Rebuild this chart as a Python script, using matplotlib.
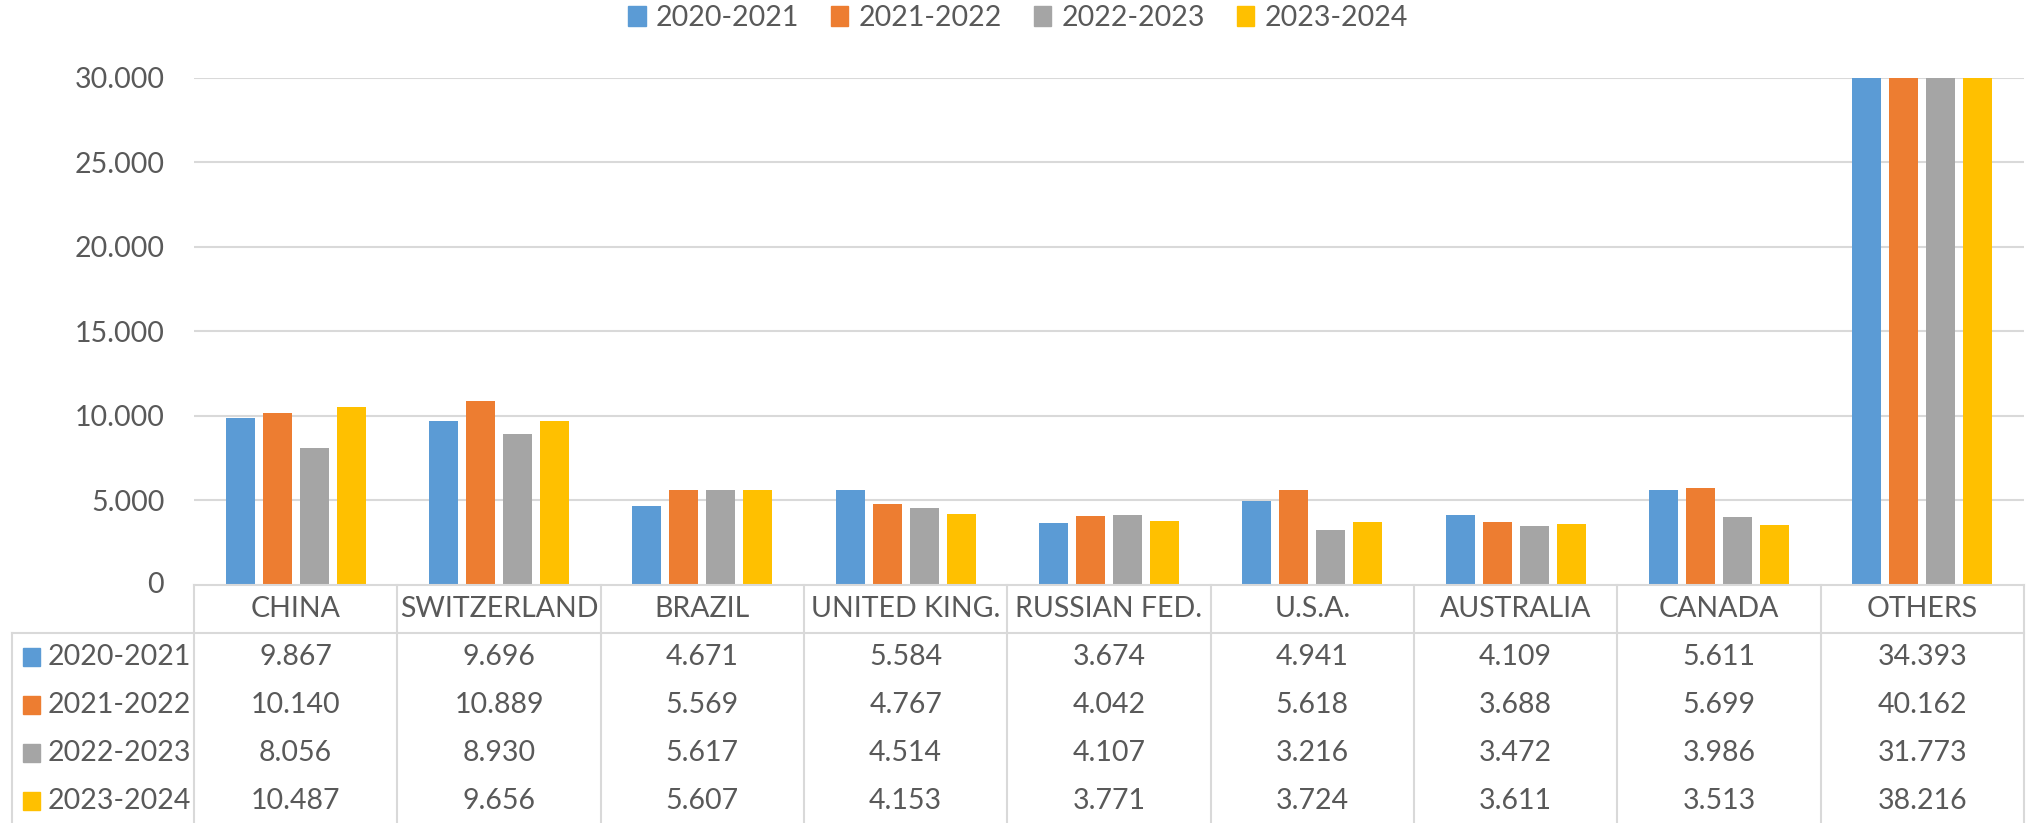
import matplotlib
matplotlib.use("Agg")
import matplotlib.pyplot as plt
import matplotlib.transforms as mtransforms
from matplotlib.patches import Rectangle, Patch
from matplotlib.lines import Line2D

# data (values in units, shown with "." as thousands separator)
countries = ['CHINA', 'SWITZERLAND', 'BRAZIL', 'UNITED KING.', 'RUSSIAN FED.',
             'U.S.A.', 'AUSTRALIA', 'CANADA', 'OTHERS']
seasons = ['2020-2021', '2021-2022', '2022-2023', '2023-2024']
v_2020_2021 = [9867, 9696, 4671, 5584, 3674, 4941, 4109, 5611, 34393]
v_2021_2022 = [10140, 10889, 5569, 4767, 4042, 5618, 3688, 5699, 40162]
v_2022_2023 = [8056, 8930, 5617, 4514, 4107, 3216, 3472, 3986, 31773]
v_2023_2024 = [10487, 9656, 5607, 4153, 3771, 3724, 3611, 3513, 38216]
yticks = [0, 5000, 10000, 15000, 20000, 25000, 30000]

series = [v_2020_2021, v_2021_2022, v_2022_2023, v_2023_2024]
colors = ['#5B9BD5', '#ED7D31', '#A5A5A5', '#FFC000']
TXT = '#595959'
GRID = '#D9D9D9'
FS = 20.5


def fmt(v):
    return '{:,}'.format(v).replace(',', '.')


plt.rcParams['font.family'] = ['Lato', 'DejaVu Sans']

W, H = 2028, 823
fig = plt.figure(figsize=(W / 100, H / 100), dpi=100)
y0, ytop = 584.6, 77.6
ax = fig.add_axes([194 / W, 1 - y0 / H, (2024 - 194) / W, (y0 - ytop) / H])

n = len(countries)
step, width = 0.182, 0.143
for i, (vals, c) in enumerate(zip(series, colors)):
    xs = [k + (i - 1.5) * step for k in range(n)]
    ax.bar(xs, vals, width=width, color=c, zorder=3)

ax.set_xlim(-0.5, n - 0.5)
ax.set_ylim(0, 30000)
ax.set_yticks(yticks[1:])
ax.set_yticklabels([fmt(v) for v in yticks[1:]])
ax.set_xticks([])
ax.yaxis.grid(True, color=GRID, linewidth=1.5, zorder=0)
ax.tick_params(axis='y', length=0, pad=21, labelsize=FS, labelcolor=TXT)
for s in ax.spines.values():
    s.set_visible(False)

# pixel coords measured from the top-left corner of the figure
pix = mtransforms.Affine2D().scale(1 / W, -1 / H).translate(0, 1) + fig.transFigure
xpix = mtransforms.blended_transform_factory(ax.transData, pix)

# 0 label
fig.text(ax.get_position().x0 - 30 / W, 1 - y0 / H, '0', ha='right', va='center',
         fontsize=FS, color=TXT)

lw = 1.5
row_h = 48
hdr_bot = y0 + row_h
# table borders
fig.add_artist(Line2D([-0.5, n - 0.5], [y0, y0], color=GRID, lw=lw, transform=xpix))
fig.add_artist(Line2D([12, 2024], [hdr_bot, hdr_bot], color=GRID, lw=lw, transform=pix))
fig.add_artist(Line2D([12, 12], [hdr_bot, H], color=GRID, lw=lw, transform=pix))
for k in range(n + 1):
    fig.add_artist(Line2D([k - 0.5, k - 0.5], [y0, H], color=GRID, lw=lw, transform=xpix))

# header
for k, name in enumerate(countries):
    fig.text(k, y0 + row_h / 2, name, ha='center', va='center', fontsize=FS,
             color=TXT, transform=xpix)

# rows
for i, (season, vals, c) in enumerate(zip(seasons, series, colors)):
    yc = hdr_bot + row_h * (i + 0.5)
    fig.add_artist(Rectangle((23, yc - 9), 17, 18, color=c, transform=pix))
    fig.text(48, yc, season, ha='left', va='center', fontsize=FS, color=TXT,
             transform=pix)
    for k, v in enumerate(vals):
        fig.text(k, yc, fmt(v), ha='center', va='center', fontsize=FS,
                 color=TXT, transform=xpix)

handles = [Patch(color=c) for c in colors]
fig.legend(handles, seasons, loc='center', bbox_to_anchor=(0.502, 1 - 18 / H), ncol=4,
           frameon=False, fontsize=FS, labelcolor=TXT, handlelength=0.6,
           handleheight=0.65, handletextpad=0.35, columnspacing=1.14,
           borderaxespad=0, borderpad=0)

fig.savefig('out.png', dpi=100)
